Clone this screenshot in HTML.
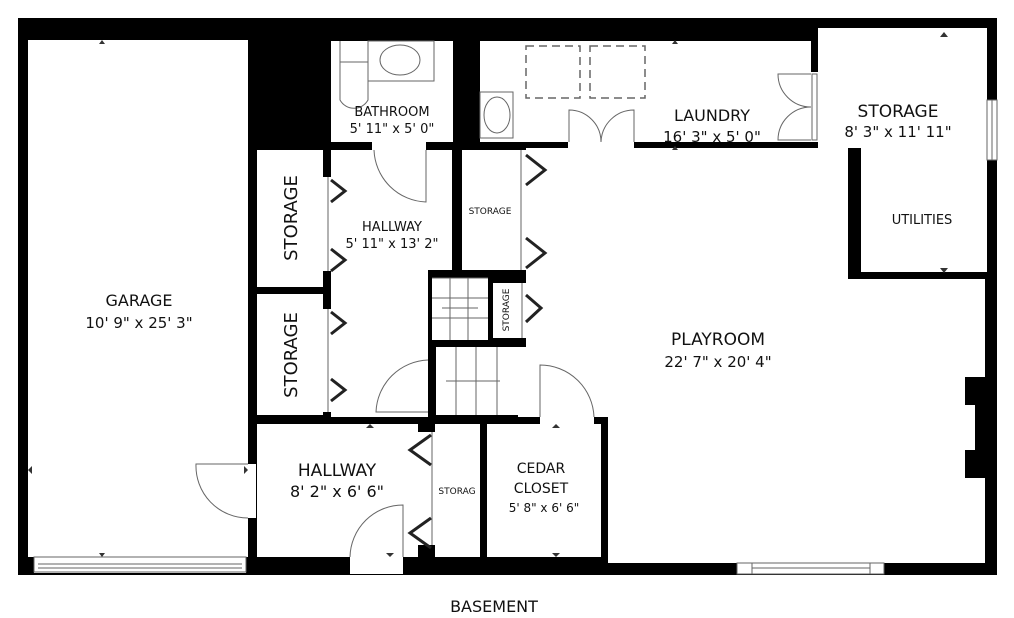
<!DOCTYPE html>
<html><head><meta charset="utf-8"><style>
html,body{margin:0;padding:0;background:#fff;}
svg{display:block;}
text{font-family:"DejaVu Sans","Liberation Sans",sans-serif;fill:#111;text-anchor:middle;}
</style></head><body>
<svg width="1014" height="618" viewBox="0 0 1014 618" xmlns="http://www.w3.org/2000/svg">
<rect x="18" y="18" width="979" height="557" fill="#000"/>
<g fill="#fff">
<rect x="28" y="40" width="220" height="517"/>
<rect x="34" y="557" width="212" height="16"/>
<rect x="248" y="464" width="8" height="54"/>
<rect x="331" y="41" width="122" height="101"/>
<rect x="372" y="142" width="54" height="8"/>
<rect x="480" y="41" width="331" height="101"/>
<rect x="568" y="142" width="66" height="6"/>
<rect x="811" y="72" width="7" height="70"/>
<path d="M818 28H987V272H861V148H818Z"/>
<rect x="987" y="100" width="10" height="60"/>
<rect x="257" y="150" width="66" height="137"/>
<rect x="257" y="294" width="66" height="121"/>
<rect x="323" y="177" width="8" height="94"/>
<rect x="323" y="309" width="8" height="103"/>
<path d="M331 150H452V270H428V340H428V417H331Z"/>
<rect x="462" y="150" width="56" height="120"/>
<rect x="518" y="150" width="8" height="120"/>
<rect x="432" y="278" width="56" height="62"/>
<rect x="493" y="283" width="26" height="55"/>
<rect x="519" y="283" width="7" height="55"/>
<rect x="436" y="347" width="82" height="68"/>
<path d="M526 148H848V279H985V563H608V417H526Z"/>
<rect x="518" y="347" width="10" height="70"/>
<rect x="540" y="417" width="54" height="7"/>
<rect x="737" y="563" width="147" height="11"/>
<rect x="257" y="424" width="161" height="133"/>
<rect x="350" y="557" width="53" height="17"/>
<rect x="418" y="432" width="17" height="113"/>
<rect x="435" y="424" width="45" height="133"/>
<rect x="487" y="424" width="114" height="133"/>
</g>
<rect x="965" y="377" width="22" height="101" fill="#000"/>
<path d="M965 405H975V450H965Z" fill="#fff"/>
<g fill="none" stroke="#666" stroke-width="1">
<rect x="34" y="557" width="212" height="15"/>
<line x1="38" y1="564" x2="242" y2="564"/><line x1="38" y1="568" x2="242" y2="568"/>
<path d="M248 464H196A52 52 0 0 0 248 518"/>
<path d="M340 41V100A16 16 0 0 0 368 100V41"/><line x1="340" y1="62" x2="368" y2="62"/>
<rect x="368" y="41" width="66" height="40"/><ellipse cx="400" cy="60" rx="20" ry="15"/>
<path d="M426 150V202A54 54 0 0 1 374 150"/>
<rect x="480" y="92" width="33" height="46"/><ellipse cx="497" cy="115" rx="13" ry="18"/>
<rect x="526" y="46" width="54" height="52" stroke-dasharray="8,5" stroke-width="1.5"/>
<rect x="590" y="46" width="55" height="52" stroke-dasharray="8,5" stroke-width="1.5"/>
<path d="M569 142V110A32 32 0 0 1 601 142"/><path d="M634 142V110A33 33 0 0 0 601 142"/>
<path d="M811 74H778A33 33 0 0 0 811 107"/><path d="M811 140H778A33 33 0 0 1 811 107"/>
<rect x="812" y="74" width="5" height="66"/>
<rect x="987" y="100" width="10" height="60"/><line x1="992" y1="100" x2="992" y2="160"/>
<line x1="328" y1="177" x2="328" y2="271"/><line x1="328" y1="309" x2="328" y2="412"/>
<line x1="521" y1="150" x2="521" y2="270"/><line x1="522" y1="283" x2="522" y2="338"/>
<line x1="432" y1="432" x2="432" y2="545"/>
<line x1="432" y1="278" x2="488" y2="278"/>
<line x1="432" y1="298" x2="488" y2="298"/><line x1="432" y1="318" x2="488" y2="318"/>
<line x1="450" y1="278" x2="450" y2="340"/><line x1="468" y1="278" x2="468" y2="340"/>
<line x1="442" y1="308" x2="478" y2="308"/>
<line x1="456" y1="347" x2="456" y2="415"/><line x1="476" y1="347" x2="476" y2="415"/><line x1="497" y1="347" x2="497" y2="415"/>
<line x1="446" y1="381" x2="500" y2="381"/>
<path d="M428 360A54 54 0 0 0 376 412H428"/>
<path d="M540 417V365A54 54 0 0 1 594 417"/>
<path d="M403 557V505A53 53 0 0 0 350 557"/>
<rect x="737" y="563" width="147" height="11"/><line x1="752" y1="563" x2="752" y2="574"/><line x1="870" y1="563" x2="870" y2="574"/><line x1="752" y1="568" x2="870" y2="568"/>
</g>
<g fill="none" stroke="#222" stroke-width="3">
<path d="M331 180L345 191L331 202"/><path d="M331 249L345 260L331 271"/>
<path d="M331 312L345 323L331 334"/><path d="M331 379L345 390L331 401"/>
<path d="M526 155L545 170L526 185"/><path d="M526 238L545 253L526 268"/>
<path d="M526 295L541 308L526 322"/>
<path d="M431 435L410 450L431 465"/><path d="M431 518L410 533L431 548"/>
</g>
<g fill="#333">
<path d="M99 44l3 -4l3 4z"/><path d="M99 553l3 4l3 -4z"/>
<path d="M672 44l3 -4l3 4z"/><path d="M672 150l3 -4l3 4z"/>
<path d="M940 37l4 -5l4 5z"/><path d="M940 268l4 5l4 -5z"/>
<path d="M366 428l4 -4l4 4z"/><path d="M386 553l4 4l4 -4z"/>
<path d="M552 428l4 -4l4 4z"/><path d="M552 553l4 4l4 -4z"/>
<path d="M32 466l-4 4l4 4z"/><path d="M244 466l4 4l-4 4z"/>
</g>
<text x="139" y="306" font-size="16">GARAGE</text>
<text x="139" y="328" font-size="15">10' 9" x 25' 3"</text>
<text x="392" y="116" font-size="13">BATHROOM</text>
<text x="392" y="133" font-size="13">5' 11" x 5' 0"</text>
<text x="712" y="121" font-size="16">LAUNDRY</text>
<text x="712" y="142" font-size="15">16' 3" x 5' 0"</text>
<text x="898" y="117" font-size="17">STORAGE</text>
<text x="898" y="137" font-size="15">8' 3" x 11' 11"</text>
<text x="922" y="224" font-size="13">UTILITIES</text>
<text x="718" y="345" font-size="17">PLAYROOM</text>
<text x="718" y="367" font-size="15">22' 7" x 20' 4"</text>
<text x="392" y="231" font-size="13">HALLWAY</text>
<text x="392" y="248" font-size="13">5' 11" x 13' 2"</text>
<text x="490" y="214" font-size="9">STORAGE</text>
<text transform="translate(509,310) rotate(-90)" font-size="9">STORAGE</text>
<text transform="translate(297,218) rotate(-90)" font-size="18">STORAGE</text>
<text transform="translate(297,355) rotate(-90)" font-size="18">STORAGE</text>
<text x="337" y="476" font-size="17">HALLWAY</text>
<text x="337" y="497" font-size="16">8' 2" x 6' 6"</text>
<text x="457" y="494" font-size="9">STORAG</text>
<text x="541" y="473" font-size="14">CEDAR</text>
<text x="541" y="493" font-size="14">CLOSET</text>
<text x="544" y="512" font-size="12">5' 8" x 6' 6"</text>
<text x="494" y="612" font-size="16">BASEMENT</text>
</svg>
</body></html>
